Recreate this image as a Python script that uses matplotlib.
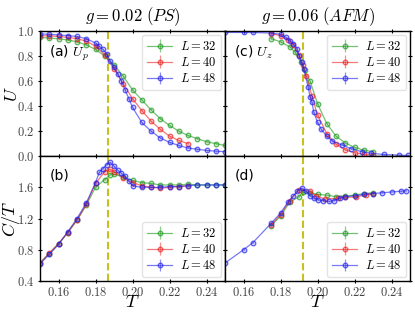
import matplotlib
matplotlib.use('Agg')
import matplotlib.pyplot as plt
from matplotlib.colors import to_rgba
from matplotlib.ticker import FuncFormatter, MultipleLocator

plt.rcParams['mathtext.fontset'] = 'cm'

sizes = [32, 40, 48]
colors = ['#1a9a1a', '#f02020', '#2020f0']
tc_left = 0.187
tc_right = 0.192

# (a) U_p, g = 0.02
Ta_32 = [0.150, 0.155, 0.160, 0.165, 0.170, 0.175, 0.180, 0.185, 0.190, 0.195, 0.200,
         0.205, 0.210, 0.215, 0.220, 0.225, 0.230, 0.235, 0.240, 0.245, 0.250]
Ua_32 = [0.95, 0.945, 0.94, 0.93, 0.915, 0.89, 0.855, 0.80, 0.73, 0.64, 0.53,
         0.45, 0.37, 0.30, 0.245, 0.20, 0.165, 0.14, 0.115, 0.10, 0.085]
Ta_40 = [0.150, 0.155, 0.160, 0.165, 0.170, 0.175, 0.180, 0.185, 0.190, 0.195, 0.200,
         0.205, 0.210, 0.215, 0.220, 0.225, 0.230]
Ua_40 = [0.965, 0.962, 0.958, 0.95, 0.94, 0.92, 0.88, 0.81, 0.70, 0.58, 0.46,
         0.365, 0.28, 0.215, 0.16, 0.125, 0.10]
Ta_48 = [0.150, 0.155, 0.160, 0.165, 0.170, 0.175, 0.180, 0.182, 0.184, 0.186, 0.188,
         0.190, 0.192, 0.194, 0.196, 0.198, 0.200, 0.205, 0.210, 0.215, 0.220,
         0.225, 0.230, 0.235, 0.240, 0.245, 0.250]
Ua_48 = [0.978, 0.975, 0.97, 0.965, 0.958, 0.94, 0.905, 0.88, 0.855, 0.82, 0.76,
         0.71, 0.66, 0.60, 0.53, 0.46, 0.39, 0.27, 0.20, 0.145, 0.11,
         0.085, 0.065, 0.055, 0.045, 0.04, 0.035]

# (c) U_z, g = 0.06
Tc_32 = [0.175, 0.180, 0.185, 0.188, 0.191, 0.193, 0.196, 0.200, 0.205, 0.210,
         0.215, 0.220, 0.225, 0.230]
Uc_32 = [0.94, 0.915, 0.875, 0.83, 0.75, 0.69, 0.60, 0.42, 0.26, 0.16,
         0.105, 0.07, 0.048, 0.035]
Tc_40 = [0.175, 0.180, 0.184, 0.187, 0.190, 0.192, 0.194, 0.197, 0.200, 0.205,
         0.210, 0.215, 0.220, 0.225, 0.230]
Uc_40 = [0.98, 0.965, 0.93, 0.89, 0.81, 0.73, 0.64, 0.48, 0.33, 0.18,
         0.095, 0.05, 0.027, 0.013, 0.008]
Tc_48 = [0.150, 0.160, 0.165, 0.175, 0.180, 0.183, 0.185, 0.187, 0.189, 0.190,
         0.1915, 0.1925, 0.195, 0.196, 0.197, 0.198, 0.200, 0.202, 0.205, 0.208,
         0.213, 0.218, 0.224, 0.229, 0.236, 0.244, 0.249]
Uc_48 = [0.99, 0.99, 0.99, 0.985, 0.975, 0.95, 0.925, 0.90, 0.86, 0.805,
         0.75, 0.70, 0.55, 0.47, 0.43, 0.35, 0.27, 0.215, 0.16, 0.12,
         0.09, 0.06, 0.035, 0.022, 0.013, 0.008, 0.005]

# (b) C/T, g = 0.02
Tb_32 = [0.150, 0.155, 0.160, 0.165, 0.170, 0.175, 0.180, 0.185, 0.188, 0.190, 0.195,
         0.200, 0.205, 0.210, 0.215, 0.220, 0.225, 0.230, 0.235, 0.240, 0.245, 0.250]
Cb_32 = [0.63, 0.75, 0.87, 1.02, 1.18, 1.37, 1.60, 1.70, 1.76, 1.77, 1.73,
         1.69, 1.66, 1.65, 1.63, 1.63, 1.63, 1.64, 1.63, 1.63, 1.63, 1.63]
Tb_40 = [0.150, 0.155, 0.160, 0.165, 0.170, 0.175, 0.180, 0.185, 0.188, 0.190, 0.195,
         0.200, 0.205, 0.210, 0.215, 0.220, 0.225, 0.230]
Cb_40 = [0.63, 0.76, 0.88, 1.02, 1.18, 1.38, 1.65, 1.80, 1.83, 1.80, 1.72,
         1.66, 1.62, 1.60, 1.59, 1.60, 1.61, 1.62]
Tb_48 = [0.150, 0.155, 0.160, 0.165, 0.170, 0.175, 0.180, 0.182, 0.184, 0.186, 0.188,
         0.190, 0.192, 0.194, 0.196, 0.198, 0.200, 0.205, 0.210, 0.215, 0.220,
         0.225, 0.230, 0.235, 0.240, 0.245, 0.250]
Cb_48 = [0.62, 0.74, 0.87, 1.03, 1.20, 1.40, 1.66, 1.79, 1.84, 1.89, 1.92,
         1.87, 1.82, 1.78, 1.74, 1.68, 1.62, 1.60, 1.60, 1.60, 1.61,
         1.61, 1.62, 1.63, 1.63, 1.63, 1.63]

# (d) C/T, g = 0.06
Td_32 = [0.175, 0.180, 0.185, 0.190, 0.192, 0.196, 0.200, 0.205, 0.210, 0.215,
         0.220, 0.225, 0.230]
Cd_32 = [1.11, 1.23, 1.41, 1.48, 1.54, 1.53, 1.51, 1.50, 1.48, 1.49,
         1.50, 1.52, 1.53]
Td_40 = [0.175, 0.180, 0.185, 0.190, 0.196, 0.199, 0.204, 0.211, 0.215, 0.221,
         0.226, 0.230]
Cd_40 = [1.12, 1.25, 1.43, 1.57, 1.55, 1.49, 1.45, 1.46, 1.47, 1.48,
         1.50, 1.52]
Td_48 = [0.150, 0.160, 0.165, 0.175, 0.180, 0.184, 0.187, 0.189, 0.1915, 0.194,
         0.196, 0.198, 0.200, 0.203, 0.206, 0.209, 0.212, 0.215, 0.220,
         0.225, 0.230, 0.235, 0.240, 0.245, 0.248]
Cd_48 = [0.63, 0.80, 0.89, 1.14, 1.27, 1.41, 1.49, 1.55, 1.59, 1.55,
         1.49, 1.46, 1.44, 1.43, 1.42, 1.43, 1.46, 1.48, 1.49,
         1.51, 1.52, 1.53, 1.54, 1.55, 1.555]

panels = [
    [(Ta_32, Ua_32), (Ta_40, Ua_40), (Ta_48, Ua_48)],
    [(Tc_32, Uc_32), (Tc_40, Uc_40), (Tc_48, Uc_48)],
    [(Tb_32, Cb_32), (Tb_40, Cb_40), (Tb_48, Cb_48)],
    [(Td_32, Cd_32), (Td_40, Cd_40), (Td_48, Cd_48)],
]
labels = ['(a) $U_p$', '(c) $U_z$', '(b)', '(d)']
tcs = [tc_left, tc_right, tc_left, tc_right]


def math_fmt(fmt):
    return FuncFormatter(lambda v, pos: '$' + fmt.format(v) + '$')


fig, axes = plt.subplots(2, 2, figsize=(4.15, 3.12), dpi=100, sharex=True, sharey='row')
fig.subplots_adjust(left=0.0964, right=0.988, top=0.9, bottom=0.0994, wspace=0, hspace=0)

for i, ax in enumerate(axes.flat):
    for (t, v), L, c in zip(panels[i], sizes, colors):
        ax.errorbar(t, v, yerr=0.004, fmt='-o', color=to_rgba(c, 0.6), ms=3.3,
                    mfc=to_rgba(c, 0.2), mec=to_rgba(c, 0.7), mew=0.9, lw=0.9,
                    ecolor=to_rgba(c, 0.5), label=f'$L = {L}$')
    ax.axvline(tcs[i], color='#c8c020', ls='--', lw=1.5, dashes=(3.5, 1.6))
    ax.text(0.05, 0.9, labels[i], transform=ax.transAxes, fontsize=10, va='top')
    ax.tick_params(direction='inout', top=True, right=True, labelsize=9, width=0.8,
                   length=3.5, pad=2, labelcolor='#444444')
    ax.xaxis.set_major_formatter(math_fmt('{:.2f}'))
    ax.yaxis.set_major_formatter(math_fmt('{:.1f}'))
    for s in ax.spines.values():
        s.set_linewidth(1.0)
    loc = 'upper right' if i < 2 else 'lower right'
    ax.legend(loc=loc, fontsize=9, handlelength=2.0, borderpad=0.4, labelspacing=0.25,
              handletextpad=0.6, borderaxespad=0.3, edgecolor='#dddddd')

ax_a, ax_c = axes[0]
ax_b, ax_d = axes[1]
ax_a.set_xlim(0.15, 0.25)
ax_a.xaxis.set_major_locator(MultipleLocator(0.02))
ax_a.set_ylim(0.0, 1.0)
ax_a.yaxis.set_major_locator(MultipleLocator(0.2))
ax_b.set_ylim(0.4, 2.0)
ax_b.set_yticks([0.4, 0.8, 1.2, 1.6])

ax_a.set_title('$g = 0.02\\ (PS)$', fontsize=12, pad=7)
ax_c.set_title('$g = 0.06\\ (AFM)$', fontsize=12, pad=7)
ax_a.set_ylabel('$U$', fontsize=13)
ax_b.set_ylabel('$C/T$', fontsize=13)
ax_a.yaxis.set_label_coords(-0.105, 0.5)
ax_b.yaxis.set_label_coords(-0.1, 0.5)
ax_b.set_xlabel('$T$', fontsize=13)
ax_d.set_xlabel('$T$', fontsize=13)
ax_b.xaxis.set_label_coords(0.5, -0.1)
ax_d.xaxis.set_label_coords(0.5, -0.1)

fig.savefig('out.png', dpi=100)
